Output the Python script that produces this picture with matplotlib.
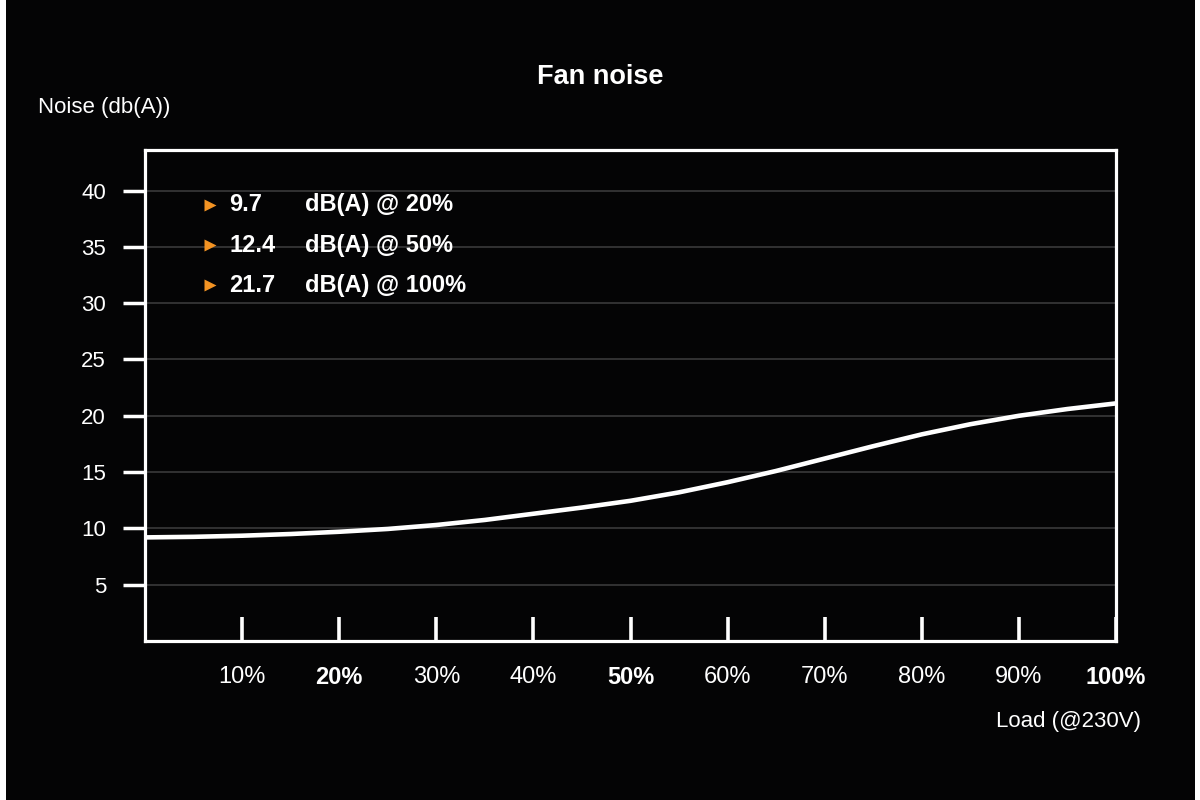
"""
Fan noise vs load chart, dark theme
"""
import matplotlib

matplotlib.use("Agg")
import matplotlib.pyplot as plt
from matplotlib.patches import Rectangle

# data (load in %, noise in dB(A))
load = [0, 5, 10, 15, 20, 25, 30, 35, 40, 45, 50, 55, 60, 65, 70, 75, 80, 85, 90, 95, 100]
noise = [9.2, 9.25, 9.35, 9.5, 9.7, 9.95, 10.3, 10.75, 11.3, 11.85, 12.45, 13.2, 14.1,
         15.1, 16.2, 17.3, 18.35, 19.25, 20.0, 20.6, 21.1]

x_ticks = [10, 20, 30, 40, 50, 60, 70, 80, 90, 100]
x_labels = ["10%", "20%", "30%", "40%", "50%", "60%", "70%", "80%", "90%", "100%"]
bold_ticks = [20, 50, 100]
y_ticks = [5, 10, 15, 20, 25, 30, 35, 40]

stat_values = ["9.7", "12.4", "21.7"]
stat_loads = ["20%", "50%", "100%"]

WHITE = "white"
ORANGE = "#f39323"
GRID = "#3a3a3a"
BG = "#040405"

plt.rcParams["font.family"] = ["Liberation Sans", "DejaVu Sans"]

fig = plt.figure(figsize=(12, 8), dpi=100, facecolor="white")
# black panel with thin white strips at the sides
fig.patches.append(Rectangle((6 / 1200, 0), 1189 / 1200, 1, transform=fig.transFigure,
                             facecolor=BG, edgecolor="none", zorder=-10))

ax = fig.add_axes([145 / 1200, 1 - 641 / 800, 971 / 1200, 491 / 800])
ax.set_facecolor(BG)
ax.plot(load, noise, color=WHITE, lw=3.3, solid_capstyle="butt",
        solid_joinstyle="round", zorder=3)

ax.set_xlim(0, 100)
ax.set_ylim(0, 43.6)

for s in ax.spines.values():
    s.set_color(WHITE)
    s.set_linewidth(2.3)

ax.set_yticks(y_ticks)
ax.set_yticklabels([str(v) for v in y_ticks])
ax.tick_params(axis="y", direction="out", length=16, width=2.5, color=WHITE,
               labelcolor=WHITE, labelsize=16, pad=12)
ax.set_xticks(x_ticks)
ax.set_xticklabels(x_labels)
ax.tick_params(axis="x", direction="in", length=17, width=2.6, color=WHITE,
               labelcolor=WHITE, labelsize=17, pad=18)
for t, v in zip(ax.get_xticklabels(), x_ticks):
    if v in bold_ticks:
        t.set_fontweight("bold")

ax.yaxis.grid(True, color=GRID, lw=1.2)
ax.set_axisbelow(True)

# summary lines in the top left of the box
rows_y = [0.888, 0.806, 0.725]
for yy, v, l in zip(rows_y, stat_values, stat_loads):
    ax.plot([0.067], [yy], marker=">", ms=9, color=ORANGE, mec="none",
            transform=ax.transAxes, clip_on=False)
    ax.text(0.087, yy, v, transform=ax.transAxes, color=WHITE, fontsize=17,
            fontweight="bold", va="center", ha="left")
    ax.text(0.165, yy, "dB(A) @ " + l, transform=ax.transAxes, color=WHITE,
            fontsize=17, fontweight="bold", va="center", ha="left")

fig.text(0.5, 1 - 77 / 800, "Fan noise", color=WHITE, fontsize=19.5,
         fontweight="bold", ha="center", va="center")
fig.text(38 / 1200, 1 - 108 / 800, "Noise (db(A))", color=WHITE, fontsize=16,
         ha="left", va="center")
fig.text(1141 / 1200, 1 - 722 / 800, "Load (@230V)", color=WHITE, fontsize=16,
         ha="right", va="center")

plt.savefig("out.png", dpi=100, facecolor=fig.get_facecolor())
